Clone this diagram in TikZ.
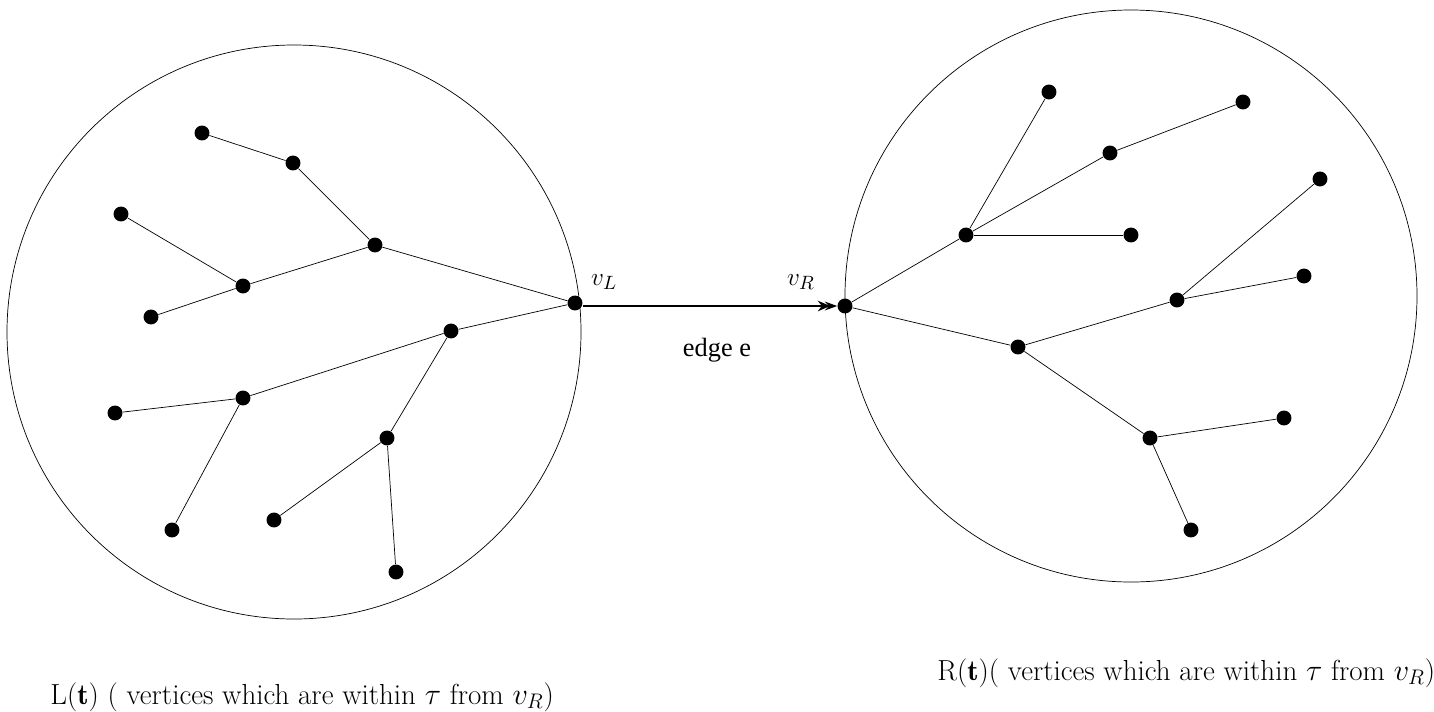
\documentclass[tikz,border=0pt]{standalone}
\usepackage{amsmath,amssymb}
\usepackage{fontspec}
\newfontfamily\timesfont{Liberation Serif}
\usetikzlibrary{arrows.meta,positioning}

\begin{document}
\begin{tikzpicture}[x=0.02cm, y=-0.02cm,
  vtx/.style={circle, fill=black, inner sep=0pt, minimum size=8.5pt},
  lnk/.style={line width=0.4pt},
  lbl/.style={font=\fontsize{15}{18}\selectfont},
  captxt/.style={font=\fontsize{16.5}{20}\selectfont, anchor=base west, inner sep=0pt},
  arr/.style={-{Stealth[length=7pt, width=6pt, sep=-3pt]Stealth[length=7pt, width=5pt]}, line width=1pt}]
\useasboundingbox (0,0) rectangle (1434,711);
% the two balls
\draw (294,332) circle [radius=287];
\draw (1131,296) circle [radius=286];
% left tree
\node[vtx] (vL) at (575,303) {};
\node[vtx] (a1) at (375,245) {};
\node[vtx] (a2) at (293,163) {};
\node[vtx] (a3) at (202,133) {};
\node[vtx] (a4) at (243,286) {};
\node[vtx] (a5) at (121,214) {};
\node[vtx] (a6) at (151,317) {};
\node[vtx] (b1) at (451,331) {};
\node[vtx] (b2) at (243,398) {};
\node[vtx] (b3) at (115,413) {};
\node[vtx] (b4) at (172,530) {};
\node[vtx] (b5) at (387,438) {};
\node[vtx] (b6) at (274,520) {};
\node[vtx] (b7) at (396,572) {};
\draw[lnk] (vL) -- (a1) -- (a2) -- (a3);
\draw[lnk] (a1) -- (a4) -- (a5); \draw[lnk] (a4) -- (a6);
\draw[lnk] (vL) -- (b1) -- (b2) -- (b3); \draw[lnk] (b2) -- (b4);
\draw[lnk] (b1) -- (b5) -- (b6); \draw[lnk] (b5) -- (b7);
% right tree
\node[vtx] (vR) at (845,306) {};
\node[vtx] (c1) at (966,235) {};
\node[vtx] (c2) at (1049,92) {};
\node[vtx] (c3) at (1110,153) {};
\node[vtx] (c4) at (1243,102) {};
\node[vtx] (c5) at (1131,235) {};
\node[vtx] (d1) at (1018,347) {};
\node[vtx] (d2) at (1177,300) {};
\node[vtx] (d3) at (1304,276) {};
\node[vtx] (d4) at (1320,179) {};
\node[vtx] (d5) at (1150,438) {};
\node[vtx] (d6) at (1284,418) {};
\node[vtx] (d7) at (1191,530) {};
\draw[lnk] (vR) -- (c1) -- (c2); \draw[lnk] (c1) -- (c3) -- (c4);
\draw[lnk] (c1) -- (c5);
\draw[lnk] (vR) -- (d1) -- (d2) -- (d3); \draw[lnk] (d2) -- (d4);
\draw[lnk] (d1) -- (d5) -- (d6); \draw[lnk] (d5) -- (d7);
% the edge e
\draw[arr] (vL.east |- vR) -- (vR);
\node[lbl] (lL) at (604,282) {$v_L$};
\node[lbl] (lR) at (801,282) {$v_R$};
\node[lbl] (le) at (717,350) {\timesfont edge e};
\node[captxt] (capL) at (50,704) {L($\mathbf{t}$) ( vertices which are within $\tau$ from $v_R$)};
\node[captxt] (capR) at (937,680) {R($\mathbf{t}$)( vertices which are within $\tau$ from $v_R$)};
\end{tikzpicture}
\end{document}
